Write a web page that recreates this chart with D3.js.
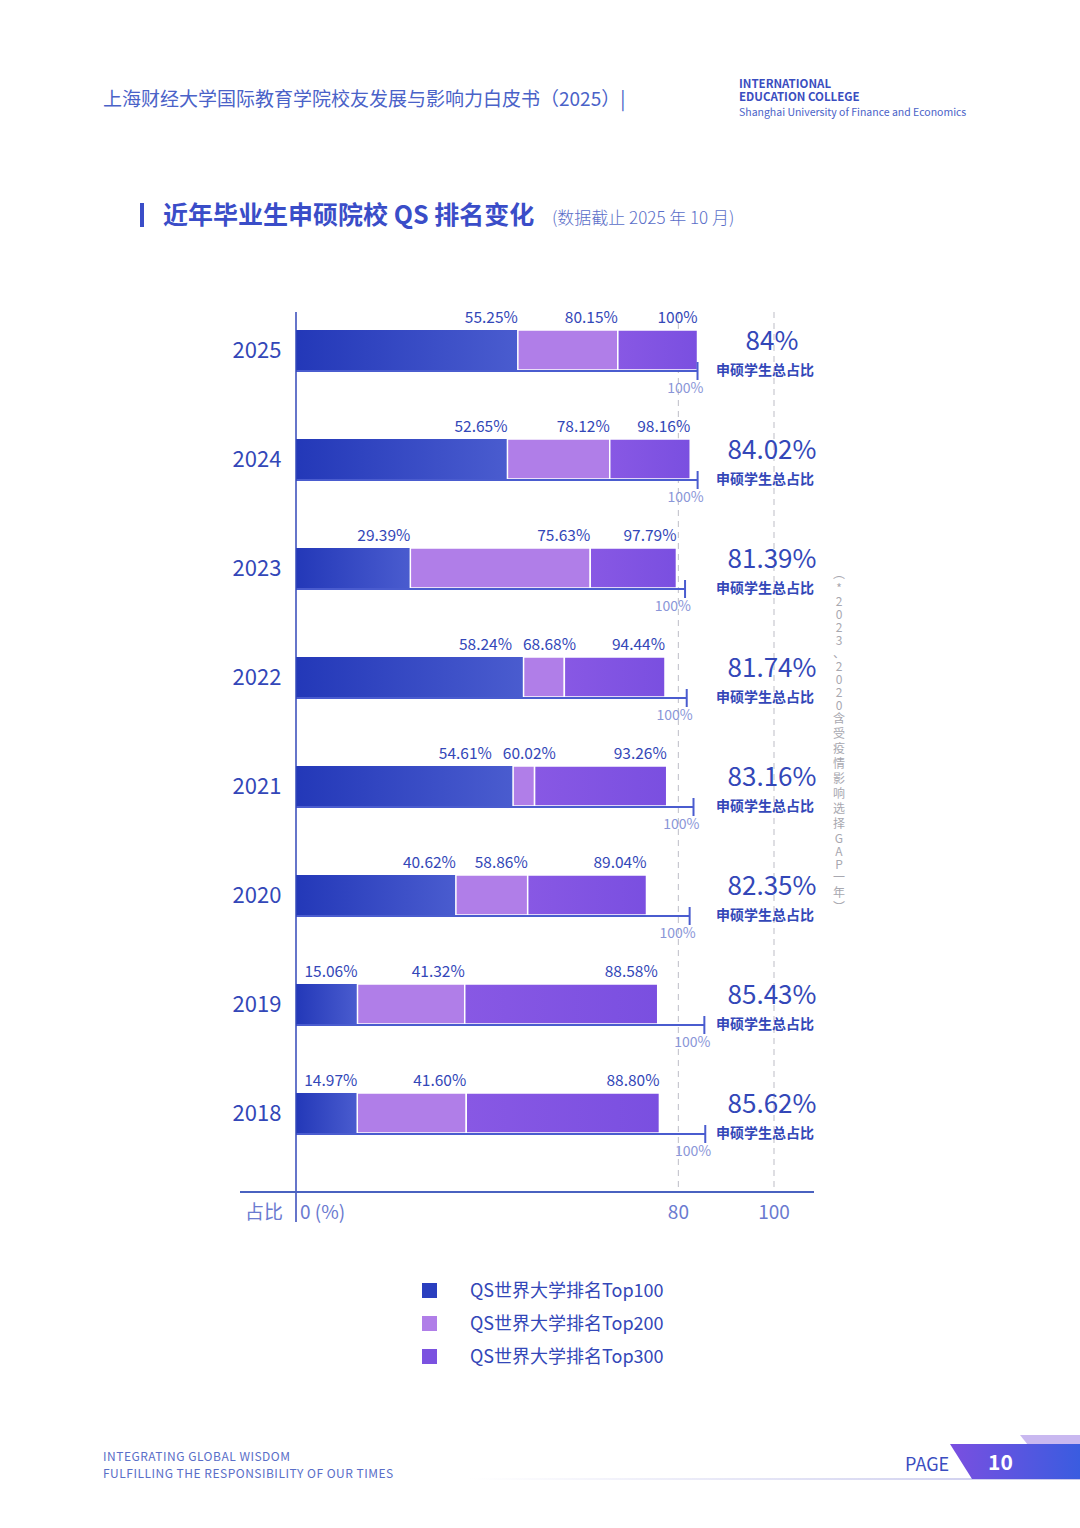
<!DOCTYPE html>
<html><head><meta charset="utf-8">
<script src="https://cdn.jsdelivr.net/npm/d3@7"></script>
<style>body{margin:0;background:#fff;}svg text{font-family:"Noto Sans CJK SC","Noto Sans",sans-serif;}</style>
</head><body><div id="chart"></div>
<script>
const years = ["2025","2024","2023","2022","2021","2020","2019","2018"];
// share of graduates going on to master's study (%)
const totals = [84, 84.02, 81.39, 81.74, 83.16, 82.35, 85.43, 85.62];
// cumulative share within that group (%)
const top100 = [55.25, 52.65, 29.39, 58.24, 54.61, 40.62, 15.06, 14.97];
const top200 = [80.15, 78.12, 75.63, 68.68, 60.02, 58.86, 41.32, 41.60];
const top300 = [100, 98.16, 97.79, 94.44, 93.26, 89.04, 88.58, 88.80];
const totalLabels = ["84%","84.02%","81.39%","81.74%","83.16%","82.35%","85.43%","85.62%"];
const series = ["QS世界大学排名Top100","QS世界大学排名Top200","QS世界大学排名Top300"];
const xTicks = [80, 100];
const note = "（*2023、2020含受疫情影响选择GAP一年）";

const W = 1080, H = 1528;
const blue = "#3347b8";
const svg = d3.select("#chart").append("svg").attr("width", W).attr("height", H);
const defs = svg.append("defs");
const g1 = defs.append("linearGradient").attr("id","g1");
g1.append("stop").attr("offset","0%").attr("stop-color","#2338b8");
g1.append("stop").attr("offset","100%").attr("stop-color","#4a5ccf");
const g3 = defs.append("linearGradient").attr("id","g3");
g3.append("stop").attr("offset","0%").attr("stop-color","#8858e4");
g3.append("stop").attr("offset","100%").attr("stop-color","#7a4fe0");
const fills = ["url(#g1)", "#b07ee8", "url(#g3)"];
const legendFills = ["#2a3fbf", "#b07ee8", "#7b52e0"];

const x = d3.scaleLinear().domain([0, 100]).range([296, 774]);
const y = d3.scaleBand().domain(years).range([275.5, 1187.5]).paddingInner(0.633).paddingOuter(0.5);

// header
svg.append("text").attr("x",103).attr("y",106).attr("font-size",19).attr("fill","#4a62c8")
  .text("上海财经大学国际教育学院校友发展与影响力白皮书（2025）|");
svg.append("text").attr("x",739).attr("y",88).attr("font-size",11.5).attr("font-weight",700).attr("fill","#3a4dc0").attr("font-family","Roboto").text("INTERNATIONAL");
svg.append("text").attr("x",739).attr("y",101).attr("font-size",11.5).attr("font-weight",700).attr("fill","#3a4dc0").attr("font-family","Roboto").text("EDUCATION COLLEGE");
svg.append("text").attr("x",739).attr("y",116).attr("font-size",10.5).attr("fill","#4a62c8").attr("font-family","Roboto").text("Shanghai University of Finance and Economics");
svg.append("rect").attr("x",140).attr("y",203).attr("width",4).attr("height",24).attr("fill","#3a4dc8");
svg.append("text").attr("x",163).attr("y",224).attr("fill","#3a4dc8").attr("font-size",25).attr("font-weight",700).text("近年毕业生申硕院校 QS 排名变化");
svg.append("text").attr("x",552).attr("y",224).attr("fill","#5a6ec8").attr("font-size",17).attr("font-weight",300).text("(数据截止 2025 年 10 月)");

// dashed reference lines
xTicks.forEach(v => svg.append("line").attr("x1",x(v)).attr("x2",x(v)).attr("y1",312).attr("y2",1192)
  .attr("stroke","#c8c8d0").attr("stroke-dasharray","6,5").attr("stroke-width",1.2));

const LW = 56, GAP = 8;
years.forEach((yr, i) => {
  const y0 = y(yr), bh = y.bandwidth(), tot = totals[i];
  const cum = [0, top100[i], top200[i], top300[i]];
  const rights = [];
  for (let k = 0; k < 3; k++) {
    svg.append("rect").attr("x", x(cum[k]*tot/100)).attr("y", y0)
      .attr("width", x(cum[k+1]*tot/100) - x(cum[k]*tot/100)).attr("height", bh)
      .attr("fill", fills[k]).attr("stroke", "#fff").attr("stroke-width", k ? 1.5 : 0);
    rights.push(x(cum[k+1]*tot/100));
  }
  // resolve label collisions
  for (let k = 1; k < 3; k++) {
    const need = rights[k-1] + GAP + LW - rights[k];
    if (need > 0) { rights[k-1] -= need / 2; rights[k] += need / 2; }
  }
  for (let k = 0; k < 3; k++) {
    svg.append("text").attr("x", rights[k]).attr("y", y0 - 7).attr("text-anchor","end")
      .attr("font-size",15.5).attr("fill",blue).text((k===2 && cum[3]===100) ? "100%" : cum[k+1].toFixed(2)+"%");
  }
  // base line to total tick
  svg.append("line").attr("x1",296).attr("x2",x(tot)).attr("y1",y0+bh+1).attr("y2",y0+bh+1).attr("stroke","#4a5ccf").attr("stroke-width",2);
  svg.append("line").attr("x1",x(tot)).attr("x2",x(tot)).attr("y1",y0+bh-8).attr("y2",y0+bh+10).attr("stroke","#4a5ccf").attr("stroke-width",2);
  svg.append("text").attr("x",x(tot)+6).attr("y",y0+bh+23).attr("text-anchor","end").attr("font-size",14).attr("fill","#8a96d8").text("100%");
  svg.append("text").attr("x",257).attr("y",y0+bh/2+8).attr("text-anchor","middle").attr("font-size",22).attr("fill",blue).text(yr);
  svg.append("text").attr("x",772).attr("y",y0+20).attr("text-anchor","middle").attr("font-size",26).attr("fill",blue).text(totalLabels[i]);
  svg.append("text").attr("x",765).attr("y",y0+45).attr("text-anchor","middle").attr("font-size",14).attr("font-weight",700).attr("fill",blue).text("申硕学生总占比");
});

// axes
svg.append("line").attr("x1",296).attr("x2",296).attr("y1",312).attr("y2",1222).attr("stroke",blue).attr("stroke-width",1.5);
svg.append("line").attr("x1",240).attr("x2",814).attr("y1",1192).attr("y2",1192).attr("stroke","#4a62c0").attr("stroke-width",2);
svg.append("text").attr("x",264).attr("y",1219).attr("text-anchor","middle").attr("font-size",19).attr("fill","#6a7ad0").text("占比");
svg.append("text").attr("x",300).attr("y",1219).attr("font-size",19).attr("fill","#6a7ad0").text("0 (%)");
xTicks.forEach(v => svg.append("text").attr("x",x(v)).attr("y",1219).attr("text-anchor","middle").attr("font-size",19).attr("fill","#6a7ad0").text(v));

// side note, upright characters stacked vertically
let ny = 578;
Array.from(note).forEach(c => {
  const ascii = /[\x00-\x7f]/.test(c) || c === "、";
  svg.append("text").attr("x",839).attr("y",ny).attr("text-anchor","middle").attr("font-size",12).attr("fill","#a8a8b0")
    .text(c === "（" ? "︵" : c === "）" ? "︶" : c);
  ny += ascii ? 13 : 15;
});

// legend
series.forEach((s, i) => {
  svg.append("rect").attr("x",422).attr("y",1283+i*33).attr("width",15).attr("height",15).attr("fill",legendFills[i]);
  svg.append("text").attr("x",470).attr("y",1297+i*33).attr("font-size",18).attr("fill",blue).text(s);
});

// footer
svg.append("text").attr("x",103).attr("y",1461).attr("font-size",12).attr("fill","#5a6ec8").attr("font-family","Roboto").attr("letter-spacing",0.5).text("INTEGRATING GLOBAL WISDOM");
svg.append("text").attr("x",103).attr("y",1478).attr("font-size",12).attr("fill","#5a6ec8").attr("font-family","Roboto").attr("letter-spacing",0.5).text("FULFILLING THE RESPONSIBILITY OF OUR TIMES");
const fg = defs.append("linearGradient").attr("id","fg");
fg.append("stop").attr("offset","0%").attr("stop-color","#fff");
fg.append("stop").attr("offset","100%").attr("stop-color","#c8c8ec");
svg.append("rect").attr("x",470).attr("y",1478).attr("width",610).attr("height",2).attr("fill","url(#fg)");
const pg = defs.append("linearGradient").attr("id","pg");
pg.append("stop").attr("offset","0%").attr("stop-color","#7a4fe0");
pg.append("stop").attr("offset","100%").attr("stop-color","#3a5ce0");
svg.append("path").attr("d","M1020,1435 L1080,1435 L1080,1445 L1028,1445 Z").attr("fill","#c9b8f0");
svg.append("path").attr("d","M950,1444 L1080,1444 L1080,1479 L972,1479 Z").attr("fill","url(#pg)");
svg.append("text").attr("x",905).attr("y",1471).attr("font-size",18).attr("fill","#3a4dc0").attr("font-family","Roboto").text("PAGE");
svg.append("text").attr("x",988).attr("y",1470).attr("font-size",21).attr("font-weight",700).attr("fill","#fff").attr("font-family","Roboto").text("10");
</script></body></html>
